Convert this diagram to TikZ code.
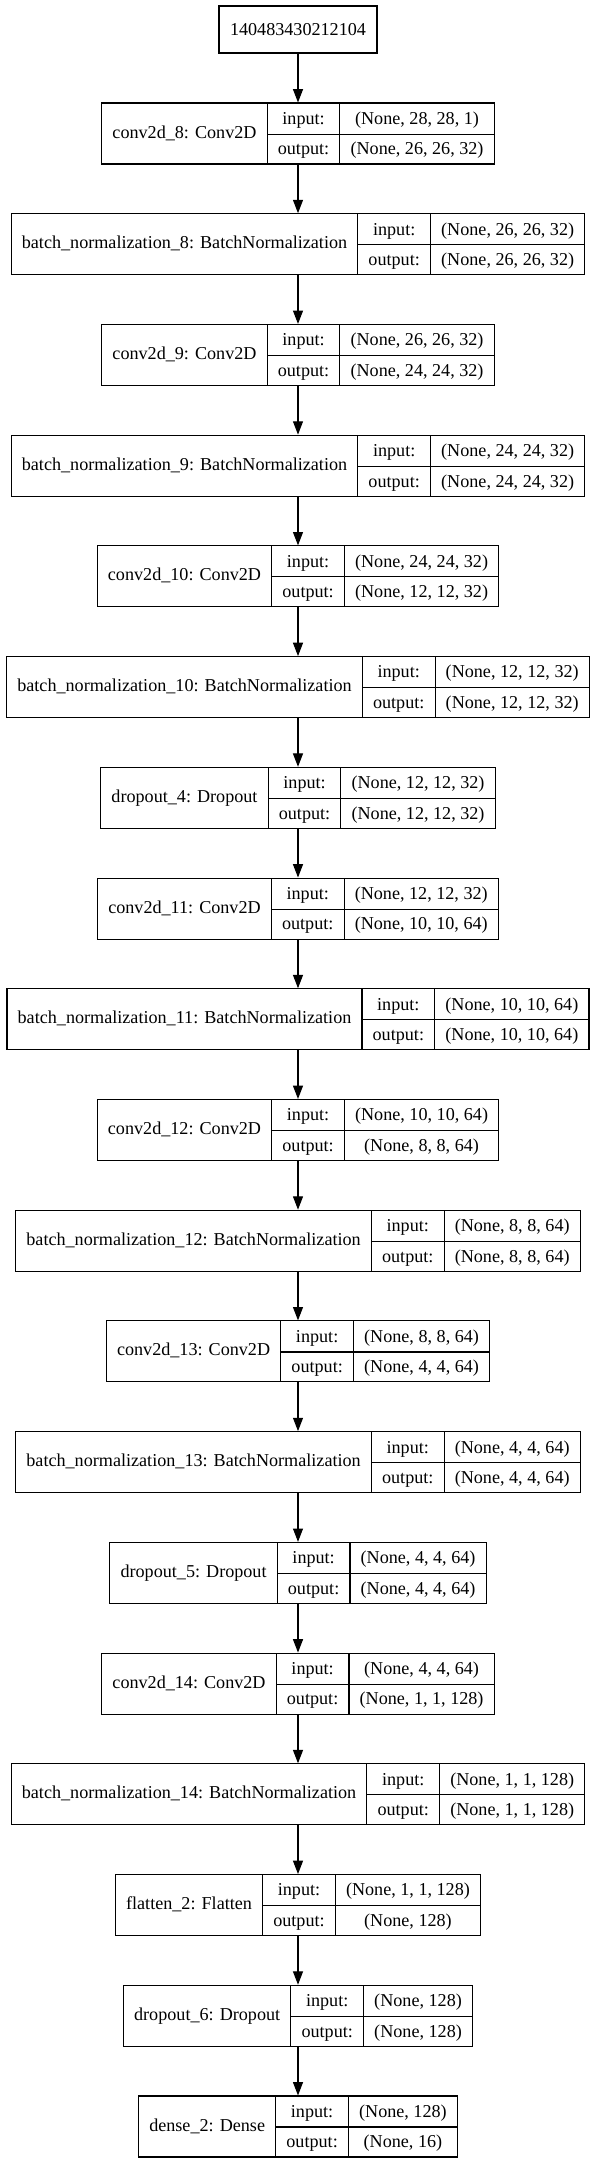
\documentclass[tikz,border=0pt]{standalone}
\usepackage{fontspec}
\setmainfont{Liberation Serif}
\usepackage{multirow}
\usetikzlibrary{arrows.meta}

\setlength{\arrayrulewidth}{0.8pt}
\setlength{\tabcolsep}{8pt}
\renewcommand{\arraystretch}{1.3456}
\newcommand{\layerbox}[3]{\begin{tabular}{c|c|c}\multirow{2}{*}{#1} & input: & #2\\ \cline{2-3} & output: & #3\end{tabular}}

\tikzset{
	layer/.style={draw, line width=0.8pt, inner sep=0pt, font=\fontsize{13.6}{17}\selectfont},
	inputbox/.style={draw, line width=0.8pt, minimum width=118.5pt, minimum height=35.25pt, inner sep=0pt, font=\fontsize{13.6}{17}\selectfont},
	edge/.style={line width=0.8pt, -{Triangle[length=10pt,width=7.5pt]}}
}

\begin{document}
\begin{tikzpicture}[x=0.75pt, y=-0.75pt]
		\useasboundingbox (0,0) rectangle (596,2163);
		\node[inputbox] (input) at (298,29.5) {140483430212104};
		\node[layer] (conv8) at (298,133.5) {\layerbox{conv2d\_8: Conv2D}{(None, 28, 28, 1)}{(None, 26, 26, 32)}};
		\node[layer] (bn8) at (298,244.22) {\layerbox{batch\_normalization\_8: BatchNormalization}{(None, 26, 26, 32)}{(None, 26, 26, 32)}};
		\node[layer] (conv9) at (298,354.94) {\layerbox{conv2d\_9: Conv2D}{(None, 26, 26, 32)}{(None, 24, 24, 32)}};
		\node[layer] (bn9) at (298,465.66) {\layerbox{batch\_normalization\_9: BatchNormalization}{(None, 24, 24, 32)}{(None, 24, 24, 32)}};
		\node[layer] (conv10) at (298,576.38) {\layerbox{conv2d\_10: Conv2D}{(None, 24, 24, 32)}{(None, 12, 12, 32)}};
		\node[layer] (bn10) at (298,687.1) {\layerbox{batch\_normalization\_10: BatchNormalization}{(None, 12, 12, 32)}{(None, 12, 12, 32)}};
		\node[layer] (drop4) at (298,797.82) {\layerbox{dropout\_4: Dropout}{(None, 12, 12, 32)}{(None, 12, 12, 32)}};
		\node[layer] (conv11) at (298,908.54) {\layerbox{conv2d\_11: Conv2D}{(None, 12, 12, 32)}{(None, 10, 10, 64)}};
		\node[layer] (bn11) at (298,1019.26) {\layerbox{batch\_normalization\_11: BatchNormalization}{(None, 10, 10, 64)}{(None, 10, 10, 64)}};
		\node[layer] (conv12) at (298,1129.98) {\layerbox{conv2d\_12: Conv2D}{(None, 10, 10, 64)}{(None, 8, 8, 64)}};
		\node[layer] (bn12) at (298,1240.7) {\layerbox{batch\_normalization\_12: BatchNormalization}{(None, 8, 8, 64)}{(None, 8, 8, 64)}};
		\node[layer] (conv13) at (298,1351.42) {\layerbox{conv2d\_13: Conv2D}{(None, 8, 8, 64)}{(None, 4, 4, 64)}};
		\node[layer] (bn13) at (298,1462.14) {\layerbox{batch\_normalization\_13: BatchNormalization}{(None, 4, 4, 64)}{(None, 4, 4, 64)}};
		\node[layer] (drop5) at (298,1572.86) {\layerbox{dropout\_5: Dropout}{(None, 4, 4, 64)}{(None, 4, 4, 64)}};
		\node[layer] (conv14) at (298,1683.58) {\layerbox{conv2d\_14: Conv2D}{(None, 4, 4, 64)}{(None, 1, 1, 128)}};
		\node[layer] (bn14) at (298,1794.3) {\layerbox{batch\_normalization\_14: BatchNormalization}{(None, 1, 1, 128)}{(None, 1, 1, 128)}};
		\node[layer] (flat2) at (298,1905.02) {\layerbox{flatten\_2: Flatten}{(None, 1, 1, 128)}{(None, 128)}};
		\node[layer] (drop6) at (298,2015.74) {\layerbox{dropout\_6: Dropout}{(None, 128)}{(None, 128)}};
		\node[layer] (dense2) at (298,2126.46) {\layerbox{dense\_2: Dense}{(None, 128)}{(None, 16)}};
		\draw[edge] (input) -- (conv8);
		\draw[edge] (conv8) -- (bn8);
		\draw[edge] (bn8) -- (conv9);
		\draw[edge] (conv9) -- (bn9);
		\draw[edge] (bn9) -- (conv10);
		\draw[edge] (conv10) -- (bn10);
		\draw[edge] (bn10) -- (drop4);
		\draw[edge] (drop4) -- (conv11);
		\draw[edge] (conv11) -- (bn11);
		\draw[edge] (bn11) -- (conv12);
		\draw[edge] (conv12) -- (bn12);
		\draw[edge] (bn12) -- (conv13);
		\draw[edge] (conv13) -- (bn13);
		\draw[edge] (bn13) -- (drop5);
		\draw[edge] (drop5) -- (conv14);
		\draw[edge] (conv14) -- (bn14);
		\draw[edge] (bn14) -- (flat2);
		\draw[edge] (flat2) -- (drop6);
		\draw[edge] (drop6) -- (dense2);
\end{tikzpicture}
\end{document}
